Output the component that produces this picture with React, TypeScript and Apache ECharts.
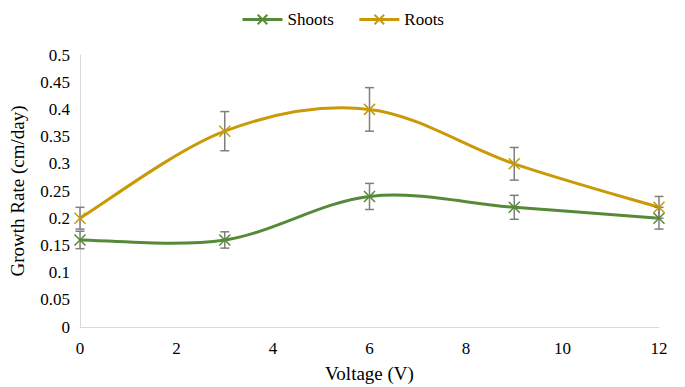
import React, { useEffect, useRef } from "react";
import * as echarts from "echarts";

const voltages = [0, 3, 6, 9, 12];
const shoots = [0.16, 0.16, 0.24, 0.22, 0.2];
const shootsErr = [0.016, 0.015, 0.024, 0.022, 0.02];
const roots = [0.2, 0.36, 0.4, 0.3, 0.22];
const rootsErr = [0.02, 0.036, 0.04, 0.03, 0.02];

const GREEN = "#568a38";
const GOLD = "#c99a06";
const FONT = "'Liberation Serif', 'Times New Roman', serif";
const XSYM = "path://M0,0L10,10M10,0L0,10";

function errSeries(name: string, vals: number[], errs: number[]) {
  return {
    type: "custom",
    name: name + "-err",
    data: voltages.map((x, i) => [x, vals[i] - errs[i], vals[i] + errs[i]]),
    encode: { x: 0, y: [1, 2] },
    z: 5,
    silent: true,
    renderItem: (params: any, api: any) => {
      const x = api.value(0);
      const lo = api.coord([x, api.value(1)]);
      const hi = api.coord([x, api.value(2)]);
      const w = 4.5;
      const style = { stroke: "#7f7f7f", lineWidth: 1.5 };
      return {
        type: "group",
        children: [
          { type: "line", shape: { x1: lo[0], y1: lo[1], x2: hi[0], y2: hi[1] }, style },
          { type: "line", shape: { x1: lo[0] - w, y1: lo[1], x2: lo[0] + w, y2: lo[1] }, style },
          { type: "line", shape: { x1: hi[0] - w, y1: hi[1], x2: hi[0] + w, y2: hi[1] }, style },
        ],
      };
    },
  };
}

// Smoothed curve (Catmull-Rom style) drawn segment by segment through the axes' coords
function curveSeries(name: string, vals: number[], color: string) {
  return {
    type: "custom",
    name: name + "-curve",
    data: voltages.map((x, i) => [x, vals[i]]),
    encode: { x: 0, y: 1 },
    z: 3,
    silent: true,
    renderItem: (params: any, api: any) => {
      const i = params.dataIndex;
      const n = voltages.length;
      if (i >= n - 1) return { type: "group", children: [] };
      const P = (k: number) => {
        const kk = Math.max(0, Math.min(n - 1, k));
        return api.coord([voltages[kk], vals[kk]]);
      };
      const p0 = P(i - 1), p1 = P(i), p2 = P(i + 1), p3 = P(i + 2);
      const t = 1 / 6;
      return {
        type: "bezierCurve",
        shape: {
          x1: p1[0],
          y1: p1[1],
          x2: p2[0],
          y2: p2[1],
          cpx1: p1[0] + (p2[0] - p0[0]) * t,
          cpy1: p1[1] + (p2[1] - p0[1]) * t,
          cpx2: p2[0] - (p3[0] - p1[0]) * t,
          cpy2: p2[1] - (p3[1] - p1[1]) * t,
        },
        style: { stroke: color, lineWidth: 3, fill: "none" },
      };
    },
  };
}

function lineSeries(name: string, vals: number[], color: string) {
  return {
    type: "line",
    name,
    data: voltages.map((x, i) => [x, vals[i]]),
    symbol: XSYM,
    symbolSize: 11,
    z: 6,
    lineStyle: { color, width: 3, opacity: 0 },
    itemStyle: { color, borderColor: color, borderWidth: 1.5 },
  };
}

const labelText = { fontFamily: FONT, fontSize: 17, color: "#000" };

export default function App() {
  const ref = useRef<HTMLDivElement>(null);
  useEffect(() => {
    const chart = echarts.init(ref.current!, null, { renderer: "svg" });
    chart.setOption({
      animation: false,
      backgroundColor: "#ffffff",
      textStyle: { fontFamily: FONT },
      legend: {
        top: 6,
        left: "center",
        itemGap: 24,
        itemWidth: 40,
        itemHeight: 12,
        data: [
          { name: "Shoots", lineStyle: { color: GREEN, width: 3, opacity: 1 } },
          { name: "Roots", lineStyle: { color: GOLD, width: 3, opacity: 1 } },
        ],
        textStyle: { ...labelText },
      },
      grid: {
        left: 80,
        right: 26,
        top: 55,
        bottom: 60,
        containLabel: false,
        outerBoundsMode: "none",
      },
      xAxis: {
        type: "value",
        min: 0,
        max: 12,
        interval: 2,
        name: "Voltage (V)",
        nameLocation: "middle",
        nameGap: 37,
        nameTextStyle: { fontFamily: FONT, fontSize: 19, color: "#000" },
        axisLine: { show: true, lineStyle: { color: "#d9d9d9", width: 1 } },
        axisTick: { show: false },
        splitLine: { show: false },
        axisLabel: { ...labelText, margin: 13 },
      },
      yAxis: {
        type: "value",
        min: 0,
        max: 0.5,
        interval: 0.05,
        name: "Growth Rate (cm/day)",
        nameLocation: "middle",
        nameGap: 53,
        nameTextStyle: { fontFamily: FONT, fontSize: 19, color: "#000" },
        axisLine: { show: true, lineStyle: { color: "#d9d9d9", width: 1 } },
        axisTick: { show: false },
        splitLine: { show: false },
        axisLabel: {
          ...labelText,
          margin: 10,
          formatter: (v: number) => String(+v.toFixed(2)),
        },
      },
      series: [
        curveSeries("Shoots", shoots, GREEN),
        curveSeries("Roots", roots, GOLD),
        lineSeries("Shoots", shoots, GREEN),
        lineSeries("Roots", roots, GOLD),
        errSeries("Shoots", shoots, shootsErr),
        errSeries("Roots", roots, rootsErr),
      ],
    });
    return () => chart.dispose();
  }, []);
  return (
    <div
      ref={ref}
      style={{ position: "fixed", left: 0, top: 0, width: 685, height: 387 }}
    />
  );
}
